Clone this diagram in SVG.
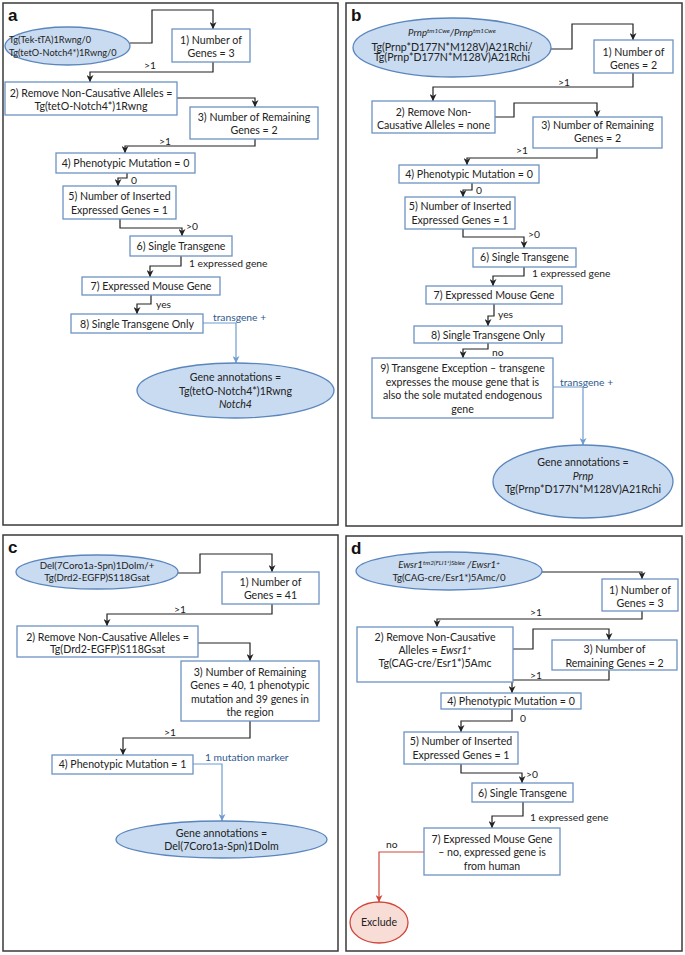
<svg xmlns="http://www.w3.org/2000/svg" width="685" height="955" viewBox="0 0 685 955">
<style>
.panel{fill:#fff;stroke:#3a3a3a;stroke-width:1.5}
.box{fill:#fff;stroke:#6d93c4;stroke-width:1.3}
.ell{fill:#c9dbf0;stroke:#5a86bd;stroke-width:1.3}
.exc{fill:#f8ddd6;stroke:#d0463a;stroke-width:1.3}
.t{font-family:Lato,"Liberation Sans",sans-serif;font-size:10.6px;fill:#222;text-anchor:middle}
.s{font-family:Lato,"Liberation Sans",sans-serif;font-size:9.7px;fill:#222;text-anchor:middle}
.l{font-family:Lato,"Liberation Sans",sans-serif;font-size:10.3px;fill:#222}
.lb{font-family:Lato,"Liberation Sans",sans-serif;font-size:10.3px;fill:#2f5a8f}
.pl{font-family:"Liberation Sans",Arial,sans-serif;font-size:17px;font-weight:bold;fill:#111}
.i{font-style:italic}
.c{fill:none;stroke:#222;stroke-width:1.2}
.cb{fill:none;stroke:#6f9bd0;stroke-width:1.2}
.cr{fill:none;stroke:#d0463a;stroke-width:1.2}
</style>
<defs>
<marker id="ab" viewBox="0 0 10 10" refX="10" refY="5" markerWidth="7" markerHeight="7" markerUnits="userSpaceOnUse" orient="auto"><path d="M0,0 L10,5 L0,10 L3,5 z" fill="#222"/></marker>
<marker id="abl" viewBox="0 0 10 10" refX="10" refY="5" markerWidth="7" markerHeight="7" markerUnits="userSpaceOnUse" orient="auto"><path d="M0,0 L10,5 L0,10 L3,5 z" fill="#6f9bd0"/></marker>
<marker id="ar" viewBox="0 0 10 10" refX="10" refY="5" markerWidth="7" markerHeight="7" markerUnits="userSpaceOnUse" orient="auto"><path d="M0,0 L10,5 L0,10 L3,5 z" fill="#d0463a"/></marker>
</defs>

<!-- panels -->
<rect class="panel" x="3" y="3" width="335" height="522"/>
<rect class="panel" x="346" y="3" width="336" height="523"/>
<rect class="panel" x="3" y="535" width="335" height="416"/>
<rect class="panel" x="346" y="536" width="336" height="415"/>
<text class="pl" x="8" y="21">a</text>
<text class="pl" x="351" y="21">b</text>
<text class="pl" x="8" y="553">c</text>
<text class="pl" x="351" y="554">d</text>

<!-- connectors -->
<g id="connectors">
<path class="c" marker-end="url(#ab)" d="M130,43 H152 V10 H213 V29"/>
<path class="c" marker-end="url(#ab)" d="M213,62 V72 H90 V82"/>
<path class="c" marker-end="url(#ab)" d="M177,98 H255 V107"/>
<path class="c" marker-end="url(#ab)" d="M255,139 V146 H125 V153"/>
<path class="c" marker-end="url(#ab)" d="M127,173 V178 H118 V186"/>
<path class="c" marker-end="url(#ab)" d="M120,219 V228 H182 V236"/>
<path class="c" marker-end="url(#ab)" d="M181,256 V266 H150 V277"/>
<path class="c" marker-end="url(#ab)" d="M151,295 V304 H137 V314"/>
<path class="cb" marker-end="url(#abl)" d="M203,323 H236 V363"/>

<path class="c" marker-end="url(#ab)" d="M551,49 H572 V24 H633 V40"/>
<path class="c" marker-end="url(#ab)" d="M633,73 V87 H433 V101"/>
<path class="c" marker-end="url(#ab)" d="M495,117 H514 V103 H597 V117"/>
<path class="c" marker-end="url(#ab)" d="M597,148 V158 H467 V165"/>
<path class="c" marker-end="url(#ab)" d="M472,183 V190 H463 V197"/>
<path class="c" marker-end="url(#ab)" d="M463,229 V237 H524 V248"/>
<path class="c" marker-end="url(#ab)" d="M524,267 V276 H493 V286"/>
<path class="c" marker-end="url(#ab)" d="M494,304 V316 H488 V326"/>
<path class="c" marker-end="url(#ab)" d="M488,343 V349 H463 V358"/>
<path class="cb" marker-end="url(#abl)" d="M553,387 H583 V445"/>

<path class="c" marker-end="url(#ab)" d="M178,573 H200 V554 H272 V572"/>
<path class="c" marker-end="url(#ab)" d="M272,604 V614 H107 V626"/>
<path class="c" marker-end="url(#ab)" d="M198,643 H250 V661"/>
<path class="c" marker-end="url(#ab)" d="M250,721 V738 H123 V755"/>
<path class="cb" marker-end="url(#abl)" d="M193,764 H222 V821"/>

<path class="c" marker-end="url(#ab)" d="M542,572 H642 V579"/>
<path class="c" marker-end="url(#ab)" d="M642,611 V619 H437 V627"/>
<path class="c" marker-end="url(#ab)" d="M513,649 H533 V629 H609 V640"/>
<path class="c" marker-end="url(#ab)" d="M609,670 V680 H512 V693"/>
<path class="c" marker-end="url(#ab)" d="M512,709 V721 H461 V732"/>
<path class="c" marker-end="url(#ab)" d="M461,764 V773 H522 V783"/>
<path class="c" marker-end="url(#ab)" d="M523,802 V816 H492 V828"/>
<path class="cr" marker-end="url(#ar)" d="M424,852 H379 V902"/>
</g>

<!-- connector labels -->
<g id="labels">
<text class="l" x="144" y="69">&gt;1</text>
<text class="l" x="159" y="145">&gt;1</text>
<text class="l" x="131" y="184">0</text>
<text class="l" x="186" y="230">&gt;0</text>
<text class="l" x="189" y="267">1 expressed gene</text>
<text class="l" x="156" y="308">yes</text>
<text class="lb" x="213" y="321">transgene +</text>

<text class="l" x="558" y="86">&gt;1</text>
<text class="l" x="516" y="154">&gt;1</text>
<text class="l" x="476" y="194">0</text>
<text class="l" x="528" y="238">&gt;0</text>
<text class="l" x="532" y="277">1 expressed gene</text>
<text class="l" x="498" y="318">yes</text>
<text class="l" x="492" y="356">no</text>
<text class="lb" x="560" y="386">transgene +</text>

<text class="l" x="174" y="613">&gt;1</text>
<text class="l" x="164" y="736">&gt;1</text>
<text class="lb" x="205" y="761">1 mutation marker</text>

<text class="l" x="530" y="616">&gt;1</text>
<text class="l" x="530" y="679">&gt;1</text>
<text class="l" x="520" y="722">0</text>
<text class="l" x="526" y="778">&gt;0</text>
<text class="l" x="530" y="821">1 expressed gene</text>
<text class="l" x="386" y="848">no</text>
</g>

<!-- panel a -->
<g id="a0"><ellipse class="ell" cx="67.5" cy="46" rx="62.5" ry="19"/>
<text class="s" style="text-anchor:start;font-size:9.2px" x="9" y="43">Tg(Tek-tTA)1Rwng/0</text>
<text class="s" style="text-anchor:start;font-size:9.2px" x="9" y="56">Tg(tetO-Notch4*)1Rwng/0</text></g>
<g id="a1"><rect class="box" x="172" y="29" width="78" height="33"/>
<text class="t" x="211" y="44">1) Number of</text><text class="t" x="211" y="57">Genes = 3</text></g>
<g id="a2"><rect class="box" x="5" y="82" width="172" height="33"/>
<text class="t" x="91" y="97">2) Remove Non-Causative Alleles =</text><text class="t" x="91" y="110">Tg(tetO-Notch4*)1Rwng</text></g>
<g id="a3"><rect class="box" x="190" y="107" width="128" height="32"/>
<text class="t" x="254" y="121">3) Number of Remaining</text><text class="t" x="254" y="134">Genes = 2</text></g>
<g id="a4"><rect class="box" x="56" y="153" width="139" height="20"/>
<text class="t" x="125.5" y="167">4) Phenotypic Mutation = 0</text></g>
<g id="a5"><rect class="box" x="63" y="186" width="113" height="33"/>
<text class="t" x="119.5" y="200">5) Number of Inserted</text><text class="t" x="119.5" y="214">Expressed Genes = 1</text></g>
<g id="a6"><rect class="box" x="130" y="236" width="102" height="20"/>
<text class="t" x="181" y="250">6) Single Transgene</text></g>
<g id="a7"><rect class="box" x="82" y="277" width="138" height="18"/>
<text class="t" x="151" y="290">7) Expressed Mouse Gene</text></g>
<g id="a8"><rect class="box" x="71" y="314" width="132" height="19"/>
<text class="t" x="137" y="328">8) Single Transgene Only</text></g>
<g id="a9"><ellipse class="ell" cx="235.5" cy="390.5" rx="98.5" ry="27.5"/>
<text class="t" x="235.5" y="381">Gene annotations =</text><text class="t" x="235.5" y="395">Tg(tetO-Notch4*)1Rwng</text><text class="t i" x="235.5" y="408">Notch4</text></g>

<!-- panel b -->
<g id="b0"><ellipse class="ell" cx="452" cy="47.5" rx="99" ry="29.5"/>
<text class="s" x="452" y="36"><tspan class="i">Prnp</tspan><tspan class="i" font-size="6.5" dy="-3">tm1Cwe</tspan><tspan class="i" dy="3">/Prnp</tspan><tspan class="i" font-size="6.5" dy="-3">tm1Cwe</tspan></text>
<text class="t" x="452" y="50.5">Tg(Prnp*D177N*M128V)A21Rchi/</text>
<text class="t" x="452" y="61">Tg(Prnp*D177N*M128V)A21Rchi</text></g>
<g id="b1"><rect class="box" x="594" y="40" width="79" height="33"/>
<text class="t" x="633.5" y="56">1) Number of</text><text class="t" x="633.5" y="69">Genes = 2</text></g>
<g id="b2"><rect class="box" x="372" y="101" width="123" height="32"/>
<text class="t" x="433.5" y="116">2) Remove Non-</text><text class="t" x="433.5" y="129">Causative Alleles = none</text></g>
<g id="b3"><rect class="box" x="533" y="117" width="129" height="31"/>
<text class="t" x="597.5" y="129">3) Number of Remaining</text><text class="t" x="597.5" y="142">Genes = 2</text></g>
<g id="b4"><rect class="box" x="399" y="165" width="140" height="18"/>
<text class="t" x="469" y="178">4) Phenotypic Mutation = 0</text></g>
<g id="b5"><rect class="box" x="405" y="197" width="110" height="32"/>
<text class="t" x="460" y="210">5) Number of Inserted</text><text class="t" x="460" y="224">Expressed Genes = 1</text></g>
<g id="b6"><rect class="box" x="473" y="248" width="103" height="19"/>
<text class="t" x="524.5" y="261">6) Single Transgene</text></g>
<g id="b7"><rect class="box" x="426" y="286" width="136" height="18"/>
<text class="t" x="494" y="299">7) Expressed Mouse Gene</text></g>
<g id="b8"><rect class="box" x="414" y="326" width="148" height="17"/>
<text class="t" x="488" y="338.5">8) Single Transgene Only</text></g>
<g id="b9"><rect class="box" x="372" y="358" width="181" height="60"/>
<text class="t" x="462.5" y="372">9) Transgene Exception – transgene</text>
<text class="t" x="462.5" y="386">expresses the mouse gene that is</text>
<text class="t" x="462.5" y="399">also the sole mutated endogenous</text>
<text class="t" x="462.5" y="413">gene</text></g>
<g id="b10"><ellipse class="ell" cx="583" cy="481.5" rx="90" ry="36.5"/>
<text class="t" x="583" y="466">Gene annotations =</text><text class="t i" x="583" y="480">Prnp</text><text class="t" x="583" y="493">Tg(Prnp*D177N*M128V)A21Rchi</text></g>

<!-- panel c -->
<g id="c0"><ellipse class="ell" cx="97" cy="572" rx="81" ry="17"/>
<text class="s" x="97" y="568.5">Del(7Coro1a-Spn)1Dolm/+</text><text class="s" x="97" y="580.5">Tg(Drd2-EGFP)S118Gsat</text></g>
<g id="c1"><rect class="box" x="222" y="572" width="97" height="32"/>
<text class="t" x="270.5" y="586">1) Number of</text><text class="t" x="270.5" y="599">Genes = 41</text></g>
<g id="c2"><rect class="box" x="17" y="626" width="181" height="31"/>
<text class="t" x="107.5" y="641">2) Remove Non-Causative Alleles =</text><text class="t" x="107.5" y="653">Tg(Drd2-EGFP)S118Gsat</text></g>
<g id="c3"><rect class="box" x="181" y="661" width="138" height="60"/>
<text class="t" x="250" y="676">3) Number of Remaining</text>
<text class="t" x="250" y="689">Genes = 40, 1 phenotypic</text>
<text class="t" x="250" y="703">mutation and 39 genes in</text>
<text class="t" x="250" y="716">the region</text></g>
<g id="c4"><rect class="box" x="52" y="755" width="141" height="19"/>
<text class="t" x="122.5" y="768">4) Phenotypic Mutation = 1</text></g>
<g id="c5"><ellipse class="ell" cx="221.5" cy="839.5" rx="105.5" ry="18.5"/>
<text class="t" x="221.5" y="836.5">Gene annotations =</text><text class="t" x="221.5" y="850">Del(7Coro1a-Spn)1Dolm</text></g>

<!-- panel d -->
<g id="d0"><ellipse class="ell" cx="449" cy="571" rx="93" ry="19"/>
<text class="s" x="449" y="568"><tspan class="i">Ewsr1</tspan><tspan class="i" font-size="6.3" dy="-3">tm2(FLI1*)Sblee</tspan><tspan class="i" dy="3"> /Ewsr1</tspan><tspan class="i" font-size="6.3" dy="-3">+</tspan></text>
<text class="s" x="449" y="581">Tg(CAG-cre/Esr1*)5Amc/0</text></g>
<g id="d1"><rect class="box" x="602" y="579" width="76" height="32"/>
<text class="t" x="640" y="594">1) Number of</text><text class="t" x="640" y="607">Genes = 3</text></g>
<g id="d2"><rect class="box" x="357" y="627" width="156" height="55"/>
<text class="t" x="435" y="641">2) Remove Non-Causative</text>
<text class="t" x="435" y="654">Alleles = <tspan class="i">Ewsr1</tspan><tspan class="i" font-size="7" dy="-3">+</tspan></text>
<text class="t" x="435" y="667">Tg(CAG-cre/Esr1*)5Amc</text></g>
<g id="d3"><rect class="box" x="552" y="640" width="125" height="30"/>
<text class="t" x="614.5" y="653">3) Number of</text><text class="t" x="614.5" y="667">Remaining Genes = 2</text></g>
<g id="d4"><rect class="box" x="441" y="693" width="140" height="16"/>
<text class="t" x="511" y="704.5">4) Phenotypic Mutation = 0</text></g>
<g id="d5"><rect class="box" x="404" y="732" width="114" height="32"/>
<text class="t" x="461" y="745">5) Number of Inserted</text><text class="t" x="461" y="759">Expressed Genes = 1</text></g>
<g id="d6"><rect class="box" x="472" y="783" width="101" height="19"/>
<text class="t" x="522.5" y="796.5">6) Single Transgene</text></g>
<g id="d7"><rect class="box" x="424" y="828" width="136" height="47"/>
<text class="t" x="492" y="843">7) Expressed Mouse Gene</text>
<text class="t" x="492" y="856">– no, expressed gene is</text>
<text class="t" x="492" y="870">from human</text></g>
<g id="d8"><ellipse class="exc" cx="379" cy="922.5" rx="29" ry="20.5"/>
<text class="t" x="379" y="926">Exclude</text></g>
</svg>
